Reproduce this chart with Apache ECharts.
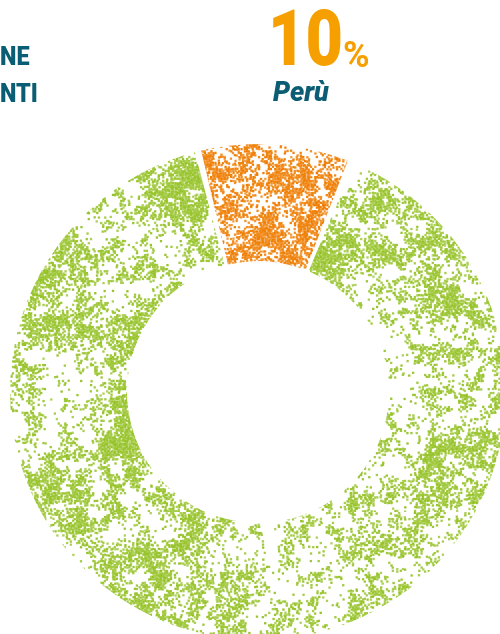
<!DOCTYPE html>
<html>
<head>
<meta charset="utf-8">
<script src="https://cdn.jsdelivr.net/npm/echarts@6/dist/echarts.min.js"></script>
<style>
  html, body { margin: 0; padding: 0; background: #fff; }
  #main { width: 500px; height: 634px; }
</style>
</head>
<body>
<div id="main"></div>
<script>
var categories = ['Perù', 'Altri'];
var shares = [10, 90];
var headLines = ['NE', 'NTI'];
var bigValue = '10';
var bigUnit = '%';
var countryName = 'Perù';

// seeded generator, only used for the speckled texture
function mulberry32(a) {
    return function () {
        a |= 0; a = a + 0x6D2B79F5 | 0;
        var t = Math.imul(a ^ a >>> 15, 1 | a);
        t = t + Math.imul(t ^ t >>> 7, 61 | t) ^ t;
        return ((t ^ t >>> 14) >>> 0) / 4294967296;
    };
}

// periodic value noise so the tile repeats without seams
function noiseLayer(size, cell, rnd) {
    var n = size / cell, g = [];
    for (var i = 0; i < n * n; i++) g.push(rnd());
    return function (x, y) {
        var fx = x / cell, fy = y / cell;
        var ix = Math.floor(fx), iy = Math.floor(fy);
        var tx = fx - ix, ty = fy - iy;
        tx = tx * tx * (3 - 2 * tx); ty = ty * ty * (3 - 2 * ty);
        var x0 = ix % n, y0 = iy % n, x1 = (ix + 1) % n, y1 = (iy + 1) % n;
        var a = g[y0 * n + x0], b = g[y0 * n + x1], c = g[y1 * n + x0], d = g[y1 * n + x1];
        return (a + (b - a) * tx) * (1 - ty) + (c + (d - c) * tx) * ty;
    };
}

function speckle(color, base, seed) {
    var size = 512;
    var c = document.createElement('canvas');
    c.width = size; c.height = size;
    var ctx = c.getContext('2d');
    var rnd = mulberry32(seed);
    var n1 = noiseLayer(size, 64, rnd), n2 = noiseLayer(size, 16, rnd), n3 = noiseLayer(size, 8, rnd);
    ctx.fillStyle = color;
    for (var y = 0; y < size; y += 2) {
        for (var x = 0; x < size; x += 2) {
            var f = 0.3 * n1(x, y) + 0.35 * n2(x, y) + 0.35 * n3(x, y);
            var p = Math.min(0.97, Math.max(0.04, base + 2.6 * (f - 0.5)));
            if (rnd() < p) {
                ctx.globalAlpha = 0.75 + rnd() * 0.25;
                ctx.fillRect(x + rnd() - 0.5, y + rnd() - 0.5, 2.3, 2.3);
            }
        }
    }
    return { image: c, repeat: 'repeat' };
}

var chart = echarts.init(document.getElementById('main'));
var fills = [
    speckle('#ef7d00', 0.6, 11),
    speckle('#96c328', 0.32, 5)
];

var option = {
    animation: false,
    graphic: [
        { type: 'text', x: 0, y: 45, scaleX: 0.9, style: { text: headLines[0], font: '900 26px Roboto', fill: '#0b5d74' } },
        { type: 'text', x: 0, y: 82, scaleX: 0.9, style: { text: headLines[1], font: '900 26px Roboto', fill: '#0b5d74' } },
        { type: 'text', x: 268, y: 6, scaleX: 0.83, style: { text: bigValue, font: '900 78px Roboto', fill: '#f5a000' } },
        { type: 'text', x: 343, y: 40, style: { text: bigUnit, font: 'bold 36px Roboto', fill: '#f5a000' } },
        { type: 'text', x: 273, y: 81, style: { text: countryName, font: 'italic 900 27px Roboto', fill: '#0b5d74' } }
    ],
    series: [{
        type: 'pie',
        center: [258, 392],
        radius: [131, 248],
        startAngle: 104,
        clockwise: true,
        padAngle: 1.5,
        silent: true,
        label: { show: false },
        labelLine: { show: false },
        emphasis: { disabled: true },
        data: categories.map(function (name, i) {
            return { name: name, value: shares[i], itemStyle: { color: fills[i] } };
        })
    }]
};

chart.setOption(option);
</script>
</body>
</html>
